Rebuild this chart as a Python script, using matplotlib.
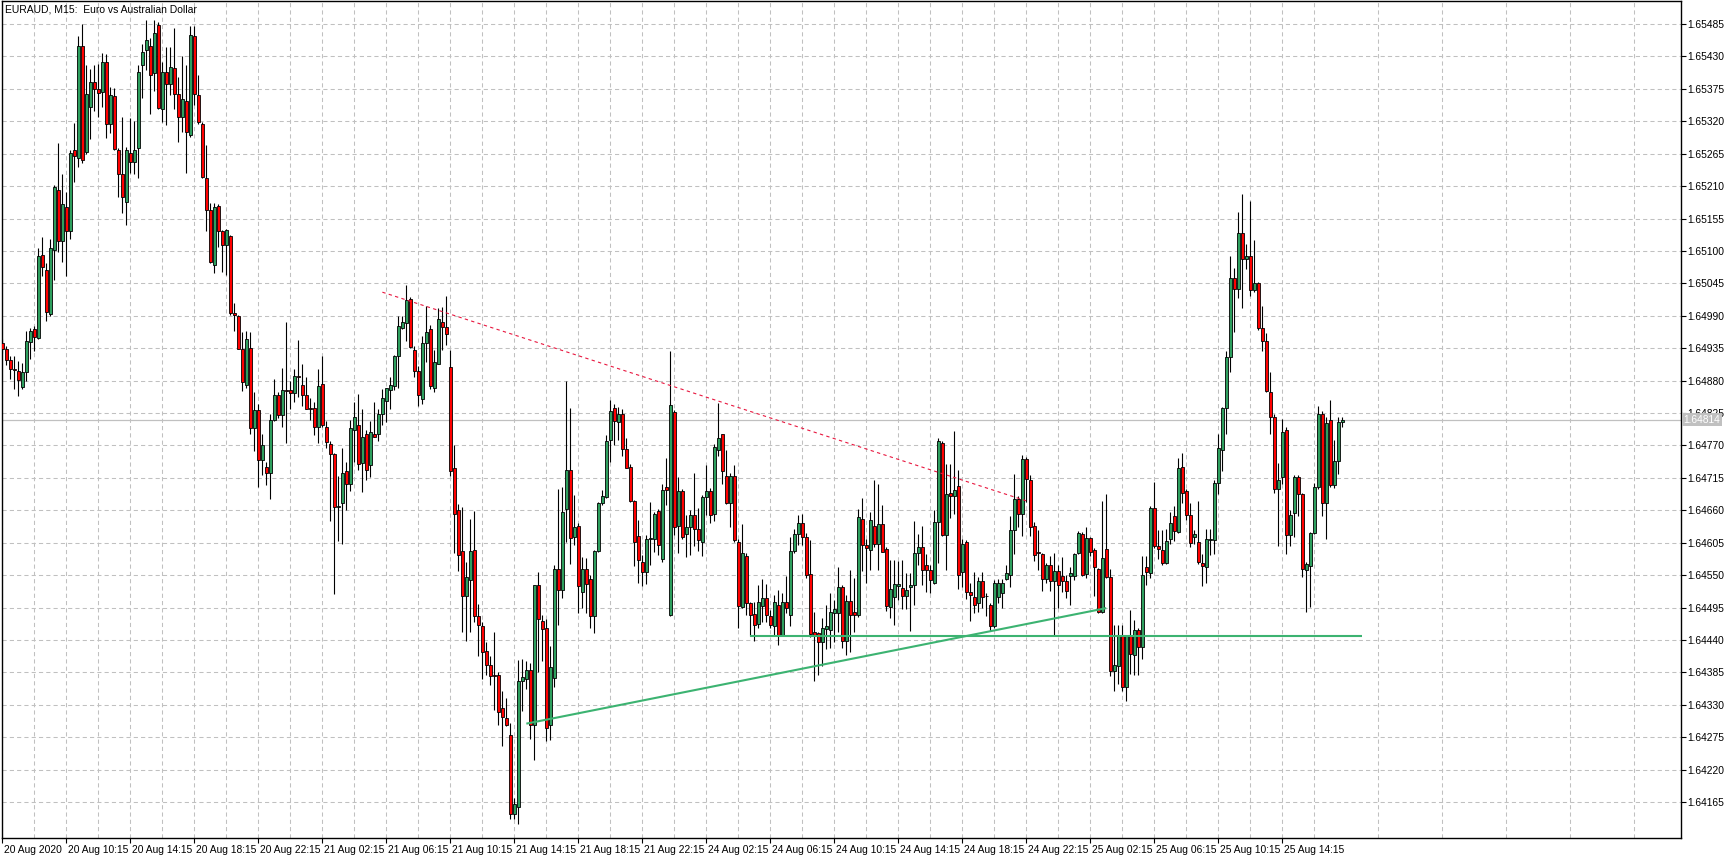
import matplotlib
matplotlib.use("Agg")
import matplotlib.pyplot as plt
import matplotlib.transforms as mtransforms
import numpy as np

plt.rcParams['font.family'] = ['Liberation Sans', 'DejaVu Sans']

title = "EURAUD, M15:  Euro vs Australian Dollar"

open_ = [
1.64944, 1.64933, 1.64915, 1.64900, 1.64896, 1.64869, 1.64894, 1.64945, 1.64968, 1.64953,
1.65093, 1.65068, 1.64993, 1.65101, 1.65204, 1.65116, 1.65175, 1.65133, 1.65272, 1.65258,
1.65447, 1.65268, 1.65345, 1.65387, 1.65375, 1.65369, 1.65421, 1.65316, 1.65362, 1.65271,
1.65230, 1.65183, 1.65266, 1.65251, 1.65274, 1.65415, 1.65441, 1.65448, 1.65402, 1.65484,
1.65341, 1.65403, 1.65384, 1.65411, 1.65367, 1.65327, 1.65355, 1.65297, 1.65465, 1.65365,
1.65316, 1.65223, 1.65169, 1.65076, 1.65176, 1.65133, 1.65110, 1.65126, 1.64994, 1.64990,
1.64934, 1.64872, 1.64935, 1.64800, 1.64830, 1.64745, 1.64733, 1.64723, 1.64814, 1.64855,
1.64821, 1.64864, 1.64864, 1.64859, 1.64888, 1.64873, 1.64855, 1.64834, 1.64834, 1.64801,
1.64874, 1.64802, 1.64773, 1.64755, 1.64666, 1.64673, 1.64726, 1.64704, 1.64796, 1.64805,
1.64741, 1.64790, 1.64736, 1.64790, 1.64789, 1.64823, 1.64846, 1.64864, 1.64870, 1.64922,
1.64970, 1.64978, 1.65019, 1.64932, 1.64897, 1.64849, 1.64944, 1.64968, 1.64868, 1.64909,
1.64980, 1.64971, 1.64903, 1.64732, 1.64660, 1.64591, 1.64514, 1.64541, 1.64592, 1.64481,
1.64464, 1.64421, 1.64398, 1.64380, 1.64380, 1.64325, 1.64307, 1.64278, 1.64145, 1.64157,
1.64370, 1.64374, 1.64389, 1.64295, 1.64534, 1.64472, 1.64460, 1.64295, 1.64376, 1.64560,
1.64525, 1.64662, 1.64729, 1.64615, 1.64634, 1.64521, 1.64560, 1.64543, 1.64480, 1.64591,
1.64672, 1.64683, 1.64779, 1.64833, 1.64810, 1.64824, 1.64764, 1.64733, 1.64675, 1.64617,
1.64573, 1.64556, 1.64611, 1.64612, 1.64659, 1.64578, 1.64699, 1.64483, 1.64826, 1.64634,
1.64693, 1.64620, 1.64632, 1.64652, 1.64628, 1.64607, 1.64683, 1.64693, 1.64653, 1.64763,
1.64789, 1.64718, 1.64673, 1.64718, 1.64607, 1.64496, 1.64583, 1.64502, 1.64484, 1.64467,
1.64497, 1.64511, 1.64480, 1.64463, 1.64499, 1.64449, 1.64504, 1.64483, 1.64591, 1.64619,
1.64638, 1.64615, 1.64552, 1.64454, 1.64451, 1.64437, 1.64459, 1.64457, 1.64486, 1.64486,
1.64530, 1.64438, 1.64506, 1.64488, 1.64482, 1.64646, 1.64601, 1.64592, 1.64634, 1.64603,
1.64637, 1.64595, 1.64496, 1.64513, 1.64532, 1.64528, 1.64515, 1.64530, 1.64534, 1.64587,
1.64598, 1.64568, 1.64558, 1.64537, 1.64640, 1.64774, 1.64618, 1.64690, 1.64684, 1.64701,
1.64555, 1.64606, 1.64521, 1.64513, 1.64502, 1.64540, 1.64515, 1.64499, 1.64464, 1.64513,
1.64520, 1.64544, 1.64551, 1.64626, 1.64679, 1.64653, 1.64747, 1.64712, 1.64633, 1.64590,
1.64585, 1.64543, 1.64568, 1.64540, 1.64557, 1.64549, 1.64540, 1.64549, 1.64548, 1.64587,
1.64619, 1.64552, 1.64613, 1.64592, 1.64561, 1.64487, 1.64594, 1.64547, 1.64388, 1.64395,
1.64446, 1.64360, 1.64446, 1.64414, 1.64457, 1.64428, 1.64564, 1.64554, 1.64664, 1.64599,
1.64593, 1.64571, 1.64612, 1.64650, 1.64623, 1.64734, 1.64693, 1.64652, 1.64615, 1.64606,
1.64571, 1.64563, 1.64609, 1.64609, 1.64707, 1.64763, 1.64834, 1.64920, 1.65054, 1.65036,
1.65130, 1.65087, 1.65092, 1.65034, 1.65046, 1.64970, 1.64948, 1.64860, 1.64818, 1.64696,
1.64716, 1.64796, 1.64618, 1.64656, 1.64716, 1.64687, 1.64559, 1.64565, 1.64622, 1.64699,
1.64824, 1.64673, 1.64813, 1.64703, 1.64743, 1.64810]

high = [
1.64950, 1.64938, 1.64921, 1.64921, 1.64913, 1.64910, 1.64964, 1.64969, 1.64972, 1.65105,
1.65123, 1.65079, 1.65121, 1.65212, 1.65283, 1.65230, 1.65200, 1.65271, 1.65317, 1.65465,
1.65485, 1.65415, 1.65409, 1.65416, 1.65417, 1.65435, 1.65434, 1.65378, 1.65377, 1.65274,
1.65327, 1.65276, 1.65326, 1.65321, 1.65415, 1.65451, 1.65492, 1.65462, 1.65492, 1.65488,
1.65420, 1.65446, 1.65446, 1.65479, 1.65395, 1.65430, 1.65415, 1.65482, 1.65482, 1.65398,
1.65319, 1.65279, 1.65181, 1.65181, 1.65180, 1.65135, 1.65138, 1.65127, 1.65012, 1.64992,
1.64962, 1.64964, 1.64962, 1.64860, 1.64840, 1.64790, 1.64742, 1.64823, 1.64882, 1.64861,
1.64902, 1.64979, 1.64879, 1.64899, 1.64949, 1.64909, 1.64886, 1.64850, 1.64843, 1.64900,
1.64922, 1.64811, 1.64778, 1.64758, 1.64718, 1.64766, 1.64742, 1.64814, 1.64843, 1.64858,
1.64832, 1.64797, 1.64811, 1.64844, 1.64832, 1.64865, 1.64868, 1.64886, 1.64924, 1.64989,
1.64989, 1.65042, 1.65022, 1.64938, 1.64905, 1.64956, 1.65007, 1.64974, 1.64932, 1.65004,
1.65005, 1.65023, 1.64932, 1.64770, 1.64670, 1.64666, 1.64573, 1.64645, 1.64659, 1.64501,
1.64471, 1.64437, 1.64413, 1.64453, 1.64386, 1.64353, 1.64341, 1.64299, 1.64172, 1.64406,
1.64407, 1.64404, 1.64401, 1.64534, 1.64556, 1.64483, 1.64475, 1.64430, 1.64567, 1.64696,
1.64700, 1.64880, 1.64833, 1.64686, 1.64639, 1.64581, 1.64579, 1.64550, 1.64593, 1.64674,
1.64694, 1.64787, 1.64847, 1.64841, 1.64835, 1.64832, 1.64782, 1.64739, 1.64677, 1.64643,
1.64584, 1.64618, 1.64674, 1.64657, 1.64663, 1.64705, 1.64749, 1.64930, 1.64830, 1.64717,
1.64696, 1.64652, 1.64660, 1.64724, 1.64664, 1.64686, 1.64736, 1.64697, 1.64773, 1.64842,
1.64790, 1.64763, 1.64724, 1.64736, 1.64611, 1.64636, 1.64587, 1.64505, 1.64505, 1.64534,
1.64544, 1.64535, 1.64491, 1.64517, 1.64525, 1.64520, 1.64549, 1.64615, 1.64629, 1.64652,
1.64653, 1.64621, 1.64609, 1.64488, 1.64454, 1.64477, 1.64499, 1.64519, 1.64508, 1.64563,
1.64533, 1.64516, 1.64558, 1.64545, 1.64663, 1.64681, 1.64612, 1.64657, 1.64711, 1.64705,
1.64669, 1.64598, 1.64575, 1.64575, 1.64574, 1.64575, 1.64553, 1.64554, 1.64641, 1.64619,
1.64634, 1.64585, 1.64567, 1.64660, 1.64782, 1.64778, 1.64739, 1.64739, 1.64794, 1.64728,
1.64611, 1.64610, 1.64536, 1.64555, 1.64547, 1.64555, 1.64520, 1.64502, 1.64541, 1.64544,
1.64544, 1.64567, 1.64651, 1.64722, 1.64685, 1.64754, 1.64750, 1.64719, 1.64640, 1.64626,
1.64587, 1.64570, 1.64583, 1.64587, 1.64567, 1.64581, 1.64550, 1.64564, 1.64588, 1.64624,
1.64623, 1.64632, 1.64615, 1.64596, 1.64562, 1.64676, 1.64687, 1.64560, 1.64465, 1.64465,
1.64465, 1.64449, 1.64490, 1.64474, 1.64461, 1.64583, 1.64583, 1.64667, 1.64708, 1.64627,
1.64627, 1.64629, 1.64657, 1.64668, 1.64749, 1.64757, 1.64696, 1.64673, 1.64626, 1.64676,
1.64585, 1.64629, 1.64629, 1.64712, 1.64789, 1.64835, 1.64930, 1.65092, 1.65071, 1.65166,
1.65197, 1.65112, 1.65185, 1.65119, 1.65047, 1.65006, 1.64960, 1.64895, 1.64824, 1.64741,
1.64815, 1.64801, 1.64661, 1.64720, 1.64720, 1.64690, 1.64572, 1.64623, 1.64706, 1.64837,
1.64828, 1.64818, 1.64847, 1.64779, 1.64818, 1.64818]

low = [
1.64927, 1.64907, 1.64882, 1.64865, 1.64854, 1.64865, 1.64879, 1.64916, 1.64930, 1.64950,
1.65057, 1.64981, 1.64990, 1.65051, 1.65099, 1.65082, 1.65058, 1.65120, 1.65217, 1.65243,
1.65250, 1.65265, 1.65290, 1.65338, 1.65328, 1.65344, 1.65292, 1.65300, 1.65271, 1.65191,
1.65165, 1.65144, 1.65232, 1.65230, 1.65223, 1.65360, 1.65407, 1.65332, 1.65371, 1.65340,
1.65319, 1.65313, 1.65364, 1.65341, 1.65285, 1.65302, 1.65232, 1.65293, 1.65347, 1.65316,
1.65223, 1.65133, 1.65079, 1.65062, 1.65107, 1.65065, 1.65059, 1.64992, 1.64964, 1.64933,
1.64862, 1.64868, 1.64790, 1.64760, 1.64700, 1.64720, 1.64703, 1.64679, 1.64811, 1.64817,
1.64802, 1.64774, 1.64831, 1.64844, 1.64853, 1.64837, 1.64831, 1.64814, 1.64787, 1.64774,
1.64802, 1.64766, 1.64642, 1.64518, 1.64608, 1.64602, 1.64660, 1.64692, 1.64742, 1.64729,
1.64691, 1.64712, 1.64716, 1.64784, 1.64778, 1.64805, 1.64810, 1.64831, 1.64864, 1.64868,
1.64967, 1.64947, 1.64935, 1.64886, 1.64837, 1.64841, 1.64911, 1.64865, 1.64861, 1.64908,
1.64932, 1.64941, 1.64718, 1.64588, 1.64557, 1.64453, 1.64439, 1.64453, 1.64471, 1.64412,
1.64373, 1.64380, 1.64364, 1.64321, 1.64296, 1.64260, 1.64294, 1.64136, 1.64136, 1.64127,
1.64320, 1.64357, 1.64272, 1.64236, 1.64386, 1.64404, 1.64268, 1.64270, 1.64360, 1.64466,
1.64511, 1.64607, 1.64569, 1.64601, 1.64486, 1.64494, 1.64486, 1.64460, 1.64452, 1.64590,
1.64669, 1.64681, 1.64742, 1.64771, 1.64779, 1.64752, 1.64731, 1.64674, 1.64566, 1.64536,
1.64531, 1.64535, 1.64567, 1.64590, 1.64584, 1.64573, 1.64669, 1.64480, 1.64618, 1.64587,
1.64612, 1.64580, 1.64584, 1.64600, 1.64591, 1.64583, 1.64652, 1.64638, 1.64642, 1.64752,
1.64705, 1.64670, 1.64632, 1.64607, 1.64461, 1.64495, 1.64483, 1.64446, 1.64439, 1.64461,
1.64471, 1.64471, 1.64460, 1.64449, 1.64431, 1.64446, 1.64486, 1.64463, 1.64587, 1.64601,
1.64601, 1.64545, 1.64445, 1.64370, 1.64381, 1.64395, 1.64425, 1.64426, 1.64437, 1.64454,
1.64426, 1.64415, 1.64420, 1.64454, 1.64479, 1.64557, 1.64536, 1.64558, 1.64598, 1.64558,
1.64589, 1.64489, 1.64477, 1.64465, 1.64508, 1.64493, 1.64492, 1.64456, 1.64499, 1.64568,
1.64533, 1.64521, 1.64519, 1.64535, 1.64570, 1.64616, 1.64558, 1.64647, 1.64654, 1.64527,
1.64530, 1.64510, 1.64472, 1.64485, 1.64487, 1.64495, 1.64480, 1.64456, 1.64460, 1.64502,
1.64495, 1.64541, 1.64530, 1.64585, 1.64632, 1.64616, 1.64674, 1.64616, 1.64574, 1.64558,
1.64523, 1.64536, 1.64523, 1.64447, 1.64495, 1.64522, 1.64512, 1.64499, 1.64541, 1.64586,
1.64548, 1.64545, 1.64583, 1.64515, 1.64486, 1.64486, 1.64545, 1.64378, 1.64354, 1.64365,
1.64353, 1.64336, 1.64382, 1.64380, 1.64380, 1.64407, 1.64533, 1.64545, 1.64596, 1.64577,
1.64568, 1.64569, 1.64602, 1.64608, 1.64622, 1.64673, 1.64644, 1.64598, 1.64602, 1.64569,
1.64532, 1.64536, 1.64584, 1.64586, 1.64687, 1.64726, 1.64790, 1.64895, 1.64962, 1.65020,
1.65004, 1.65069, 1.65024, 1.65030, 1.64966, 1.64930, 1.64860, 1.64790, 1.64690, 1.64599,
1.64705, 1.64586, 1.64600, 1.64615, 1.64650, 1.64547, 1.64488, 1.64496, 1.64620, 1.64696,
1.64651, 1.64612, 1.64699, 1.64697, 1.64721, 1.64801]

close = [
1.64933, 1.64915, 1.64900, 1.64898, 1.64881, 1.64894, 1.64947, 1.64964, 1.64954, 1.65092,
1.65072, 1.64997, 1.65105, 1.65208, 1.65116, 1.65179, 1.65133, 1.65266, 1.65261, 1.65447,
1.65255, 1.65367, 1.65387, 1.65374, 1.65368, 1.65421, 1.65316, 1.65364, 1.65273, 1.65231,
1.65191, 1.65272, 1.65251, 1.65272, 1.65404, 1.65437, 1.65458, 1.65399, 1.65470, 1.65342,
1.65403, 1.65384, 1.65412, 1.65367, 1.65327, 1.65358, 1.65302, 1.65466, 1.65367, 1.65318,
1.65226, 1.65169, 1.65082, 1.65175, 1.65133, 1.65110, 1.65135, 1.64995, 1.64991, 1.64934,
1.64878, 1.64950, 1.64800, 1.64830, 1.64745, 1.64770, 1.64724, 1.64814, 1.64855, 1.64821,
1.64864, 1.64862, 1.64859, 1.64888, 1.64886, 1.64856, 1.64832, 1.64832, 1.64801, 1.64870,
1.64805, 1.64775, 1.64756, 1.64666, 1.64668, 1.64724, 1.64704, 1.64799, 1.64819, 1.64739,
1.64785, 1.64729, 1.64792, 1.64785, 1.64823, 1.64850, 1.64867, 1.64873, 1.64922, 1.64973,
1.64980, 1.65016, 1.64937, 1.64897, 1.64855, 1.64944, 1.64962, 1.64870, 1.64911, 1.64984,
1.64971, 1.64959, 1.64727, 1.64653, 1.64584, 1.64514, 1.64546, 1.64591, 1.64481, 1.64466,
1.64419, 1.64397, 1.64379, 1.64378, 1.64318, 1.64309, 1.64296, 1.64145, 1.64161, 1.64370,
1.64377, 1.64389, 1.64296, 1.64534, 1.64475, 1.64459, 1.64290, 1.64394, 1.64560, 1.64525,
1.64657, 1.64729, 1.64613, 1.64632, 1.64531, 1.64560, 1.64535, 1.64480, 1.64591, 1.64672,
1.64685, 1.64778, 1.64829, 1.64811, 1.64824, 1.64764, 1.64732, 1.64675, 1.64607, 1.64576,
1.64555, 1.64611, 1.64613, 1.64653, 1.64601, 1.64694, 1.64695, 1.64839, 1.64632, 1.64693,
1.64615, 1.64632, 1.64652, 1.64628, 1.64610, 1.64683, 1.64693, 1.64652, 1.64767, 1.64783,
1.64726, 1.64673, 1.64718, 1.64610, 1.64498, 1.64587, 1.64502, 1.64483, 1.64466, 1.64504,
1.64511, 1.64483, 1.64465, 1.64504, 1.64449, 1.64504, 1.64494, 1.64591, 1.64619, 1.64638,
1.64615, 1.64550, 1.64450, 1.64448, 1.64437, 1.64460, 1.64464, 1.64488, 1.64492, 1.64530,
1.64438, 1.64506, 1.64482, 1.64482, 1.64649, 1.64601, 1.64596, 1.64644, 1.64603, 1.64637,
1.64590, 1.64497, 1.64526, 1.64535, 1.64535, 1.64515, 1.64524, 1.64534, 1.64587, 1.64598,
1.64558, 1.64558, 1.64541, 1.64640, 1.64777, 1.64618, 1.64687, 1.64684, 1.64695, 1.64551,
1.64603, 1.64521, 1.64516, 1.64500, 1.64540, 1.64513, 1.64514, 1.64464, 1.64537, 1.64537,
1.64537, 1.64553, 1.64627, 1.64679, 1.64653, 1.64747, 1.64713, 1.64632, 1.64584, 1.64587,
1.64543, 1.64568, 1.64540, 1.64557, 1.64533, 1.64540, 1.64523, 1.64553, 1.64585, 1.64622,
1.64550, 1.64613, 1.64589, 1.64564, 1.64487, 1.64579, 1.64547, 1.64387, 1.64397, 1.64446,
1.64360, 1.64446, 1.64416, 1.64457, 1.64428, 1.64551, 1.64556, 1.64664, 1.64599, 1.64595,
1.64571, 1.64608, 1.64638, 1.64625, 1.64731, 1.64690, 1.64652, 1.64604, 1.64619, 1.64572,
1.64565, 1.64611, 1.64612, 1.64706, 1.64765, 1.64834, 1.64920, 1.65054, 1.65036, 1.65130,
1.65087, 1.65092, 1.65034, 1.65046, 1.64969, 1.64948, 1.64862, 1.64818, 1.64696, 1.64712,
1.64793, 1.64618, 1.64652, 1.64716, 1.64687, 1.64561, 1.64569, 1.64622, 1.64699, 1.64824,
1.64673, 1.64808, 1.64703, 1.64743, 1.64810, 1.64814]

x_tick_labels = ['20 Aug 2020', '20 Aug 10:15', '20 Aug 14:15', '20 Aug 18:15', '20 Aug 22:15',
                 '21 Aug 02:15', '21 Aug 06:15', '21 Aug 10:15', '21 Aug 14:15', '21 Aug 18:15',
                 '21 Aug 22:15', '24 Aug 02:15', '24 Aug 06:15', '24 Aug 10:15', '24 Aug 14:15',
                 '24 Aug 18:15', '24 Aug 22:15', '25 Aug 02:15', '25 Aug 06:15', '25 Aug 10:15',
                 '25 Aug 14:15']
bars_per_label = 16

price_ticks = [1.64165, 1.64220, 1.64275, 1.64330, 1.64385, 1.64440, 1.64495, 1.64550,
               1.64605, 1.64660, 1.64715, 1.64770, 1.64825, 1.64880, 1.64935, 1.64990,
               1.65045, 1.65100, 1.65155, 1.65210, 1.65265, 1.65320, 1.65375, 1.65430, 1.65485]

current_price = 1.64814
# drawn objects (bar index, price)
resist_x = [95, 256]
resist_y = [1.65030, 1.64676]
trend_x = [131, 276]
trend_y = [1.64298, 1.64494]
support_x = [187, 340]
support_y = [1.64447, 1.64447]

# ---------------------------------------------------------------
W, H = 1733, 858
fig = plt.figure(figsize=(W / 100, H / 100), dpi=100)
ax = fig.add_axes([2 / W, 1 - 838 / H, (1681 - 2) / W, (838 - 1) / H])

o = np.array(open_); h = np.array(high); l = np.array(low); c = np.array(close)
x = np.arange(len(o))
up = c >= o
dn = ~up

GREEN_BODY = '#2E9F5E'
RED_BODY = '#FF0000'
LINE_GREEN = '#3CB371'
GRID = '#C0C0C0'

ax.vlines(x, l, h, color='black', linewidth=0.8, zorder=3)
bot = np.minimum(o, c)
hgt = np.abs(c - o)
ax.bar(x[up], hgt[up], bottom=bot[up], width=0.72, color=GREEN_BODY,
       edgecolor='black', linewidth=0.6, zorder=4)
ax.bar(x[dn], hgt[dn], bottom=bot[dn], width=0.72, color=RED_BODY,
       edgecolor='black', linewidth=0.6, zorder=4)

# current price line
ax.axhline(current_price, color=GRID, linewidth=0.9, zorder=2)

# drawn lines
ax.plot(resist_x, resist_y, color='#E8173F', linewidth=0.8,
        linestyle=(0, (3, 3)), zorder=6)
ax.plot(trend_x, trend_y, color=LINE_GREEN, linewidth=1.5, zorder=6, solid_capstyle='butt')
ax.plot(support_x, support_y, color=LINE_GREEN, linewidth=1.5, zorder=6, solid_capstyle='butt')

ax.set_xlim(-0.1, 419.7)
ax.set_ylim(1.64104, 1.65524)

# ticks
major = np.arange(len(x_tick_labels)) * bars_per_label
ax.set_xticks(major)
ax.set_xticklabels(x_tick_labels)
ax.set_xticks(np.arange(8, 420, 16), minor=True)
ax.yaxis.tick_right()
ax.set_yticks(price_ticks)
ax.set_yticklabels([f"{v:.5f}" for v in price_ticks])

ax.tick_params(axis='both', which='major', direction='out', length=3.5, width=0.8,
               color='black', labelsize=7.4, labelcolor='black')
ax.tick_params(axis='y', pad=1.2)
ax.tick_params(axis='x', pad=1.2)
ax.tick_params(axis='x', which='minor', length=0)

offset = mtransforms.ScaledTranslation(1.5 / 100, 0, fig.dpi_scale_trans)
for lab in ax.get_xticklabels():
    lab.set_horizontalalignment('left')
    lab.set_transform(lab.get_transform() + offset)

ax.set_axisbelow(True)
ax.grid(True, axis='x', which='both', color=GRID, linestyle=(0, (4, 3)), linewidth=0.75)
ax.grid(True, axis='y', which='major', color=GRID, linestyle=(0, (4, 3)), linewidth=0.75)

for s in ax.spines.values():
    s.set_color('black')
    s.set_linewidth(1.0)

# current price label on axis
ax.text(1.0016, current_price, f"{current_price:.5f}", transform=ax.get_yaxis_transform(),
        ha='left', va='center', fontsize=7.4, color='white', zorder=10, clip_on=False,
        bbox=dict(boxstyle='square,pad=0.18', facecolor='#C0C0C0', edgecolor='none'))

ax.text(0.002, 0.996, title, transform=ax.transAxes, ha='left', va='top',
        fontsize=7.5, color='black', zorder=10)

fig.savefig('out.png', dpi=100, facecolor='white')
